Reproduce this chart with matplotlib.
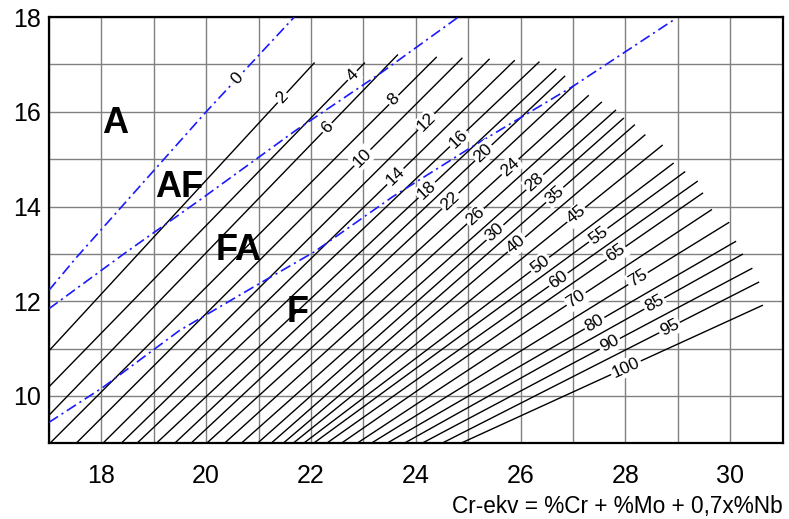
import numpy as np
import matplotlib
matplotlib.use("Agg")
import matplotlib.pyplot as plt

plt.rcParams['font.family'] = ['Liberation Sans', 'DejaVu Sans']

# ferrite number lines: start point (lower end) and end point (upper end)
fn_values = [2, 4, 6, 8, 10, 12, 14, 16, 18, 20, 22, 24, 26, 28, 30,
             35, 40, 45, 50, 55, 60, 65, 70, 75, 80, 85, 90, 95, 100]
start_x = [17.0, 17.0, 17.0, 17.02, 17.52, 18.03, 18.38, 18.68, 19.05, 19.40,
           19.71, 20.01, 20.35, 20.67, 20.98, 21.24, 21.47, 21.66, 21.86, 22.05,
           22.30, 22.58, 22.88, 23.15, 23.45, 23.78, 24.12, 24.50, 24.86]
start_y = [10.95, 10.19, 9.59, 9.0, 9.0, 9.0, 9.0, 9.0, 9.0, 9.0,
           9.0, 9.0, 9.0, 9.0, 9.0, 9.0, 9.0, 9.0, 9.0, 9.0,
           9.0, 9.0, 9.0, 9.0, 9.0, 9.0, 9.0, 9.0, 9.0]
end_x = [22.06, 23.02, 23.65, 24.39, 24.88, 25.40, 25.88, 26.35, 26.67, 26.84,
         27.00, 27.29, 27.54, 27.81, 27.96, 28.17, 28.37, 28.70, 28.91, 29.13,
         29.37, 29.47, 29.64, 29.97, 30.10, 30.23, 30.41, 30.54, 30.61]
end_y = [17.03, 17.03, 17.20, 17.15, 17.13, 17.11, 17.08, 17.05, 16.90, 16.75,
         16.54, 16.34, 16.20, 16.03, 15.86, 15.72, 15.51, 15.29, 14.91, 14.73,
         14.53, 14.28, 13.93, 13.66, 13.26, 12.99, 12.69, 12.40, 11.91]
label_x = [21.45, 22.79, 22.31, 23.58, 22.98, 24.20, 23.61, 24.81, 24.21, 25.29,
           24.66, 25.80, 25.14, 26.27, 25.51, 26.65, 25.92, 27.06, 26.37, 27.48,
           26.72, 27.82, 27.06, 28.24, 27.41, 28.55, 27.70, 28.84, 28.01]

# phase boundaries (dash-dot)
a_af_x = [17.0, 17.53, 20.0, 21.68]
a_af_y = [12.23, 12.93, 16.0, 18.0]
af_fa_x = [17.0, 18.48, 19.87, 21.7, 23.32, 24.81]
af_fa_y = [11.84, 13.04, 14.13, 15.6, 16.81, 18.0]
fa_f_x = [17.0, 18.03, 19.49, 20.95, 22.06, 23.55, 25.07, 26.02, 27.0, 28.96]
fa_f_y = [9.44, 10.18, 11.38, 12.33, 13.04, 14.2, 15.26, 15.89, 16.54, 17.97]
zero_label_x = 20.60

regions = ['A', 'AF', 'FA', 'F']
region_x = [18.27, 19.49, 20.63, 21.74]
region_y = [15.75, 14.41, 13.07, 11.77]

fig = plt.figure(figsize=(7.89, 5.19), dpi=100)
ax = fig.add_axes([0.062, 0.146, 0.930, 0.821])
ax.set_xlim(17, 31)
ax.set_ylim(9, 18)

ax.set_xticks(np.arange(18, 31, 2))
ax.set_yticks(np.arange(10, 19, 2))
ax.set_xticks(np.arange(17, 32, 1), minor=True)
ax.set_yticks(np.arange(9, 19, 1), minor=True)
ax.grid(which='both', color='0.5', linewidth=1.0, zorder=0)
ax.set_axisbelow(True)
ax.tick_params(which='both', length=0)
ax.tick_params(axis='x', labelsize=18, pad=15)
ax.tick_params(axis='y', labelsize=18, pad=6)
for sp in ax.spines.values():
    sp.set_linewidth(1.6)

for i in range(len(fn_values)):
    ax.plot([start_x[i], end_x[i]], [start_y[i], end_y[i]], color='black', lw=1.0, zorder=2)

dash = (0, (6.5, 2.5, 1.3, 2.5))
for bx, by in [(a_af_x, a_af_y), (af_fa_x, af_fa_y), (fa_f_x, fa_f_y)]:
    ax.plot(bx, by, color='#1a1aff', lw=1.2, linestyle=dash, zorder=3)

fig.canvas.draw()


def screen_angle(x0, y0, x1, y1):
    p0 = ax.transData.transform((x0, y0))
    p1 = ax.transData.transform((x1, y1))
    return np.degrees(np.arctan2(p1[1] - p0[1], p1[0] - p0[0]))


box = dict(boxstyle='square,pad=0.1', fc='white', ec='none')
for i, fn in enumerate(fn_values):
    lx = label_x[i]
    ly = np.interp(lx, [start_x[i], end_x[i]], [start_y[i], end_y[i]])
    ang = screen_angle(start_x[i], start_y[i], end_x[i], end_y[i])
    ax.text(lx, ly, str(fn), fontsize=12.5, rotation=ang, rotation_mode='anchor',
            ha='center', va='center', bbox=box, zorder=4)

zy = np.interp(zero_label_x, a_af_x, a_af_y)
ang0 = screen_angle(a_af_x[0], a_af_y[0], a_af_x[-1], a_af_y[-1])
ax.text(zero_label_x, zy, '0', fontsize=12.5, rotation=ang0, rotation_mode='anchor',
        ha='center', va='center', bbox=box, zorder=4)

for name, rx, ry in zip(regions, region_x, region_y):
    ax.text(rx, ry, name, fontsize=26, fontweight='bold', ha='center', va='center', zorder=5)

ax.set_xlabel('Cr-ekv = %Cr + %Mo + 0,7x%Nb', fontsize=16.3, loc='right', labelpad=5)

fig.savefig('out.png', dpi=100)
